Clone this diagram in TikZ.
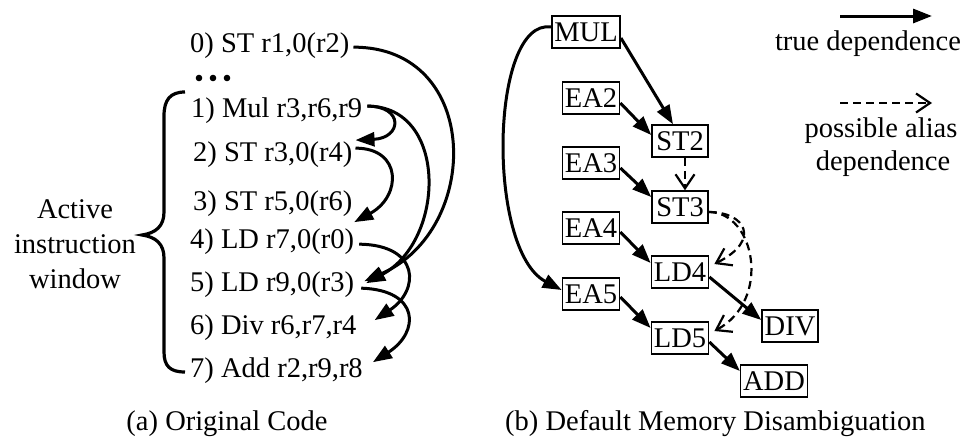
\documentclass[tikz,border=0pt]{standalone}
\usepackage{fontspec}
\setmainfont{Liberation Serif}
\usetikzlibrary{arrows.meta,calc}
\begin{document}
\begin{tikzpicture}[x=1pt,y=-1pt,
  every node/.style={font=\fontsize{28.5}{35}\selectfont},
  code/.style={anchor=base west,inner sep=0pt},
  box/.style={draw,line width=1.5pt,minimum width=56pt,minimum height=32pt,inner xsep=2.5pt,inner ysep=0pt},
  arr/.style={line width=3pt,-{Triangle[length=19pt,width=14pt]}},
  alias/.style={line width=2.2pt,dash pattern=on 8pt off 5pt,-{Straight Barb[length=14pt,width=19pt,line width=2.2pt]}},
  lbl/.style={anchor=base,inner sep=0pt}]
\useasboundingbox (0,0) rectangle (971,440);
% ---------- (a) ----------
\node[code] (l0) at (190,52) {0) ST r1,0(r2)};
\node[code] (l1) at (191,117) {1) Mul r3,r6,r9};
\node[code] (l2) at (193,161) {2) ST r3,0(r4)};
\node[code] (l3) at (193,210) {3) ST r5,0(r6)};
\node[code] (l4) at (190,248) {4) LD r7,0(r0)};
\node[code] (l5) at (190,291) {5) LD r9,0(r3)};
\node[code] (l6) at (190,334) {6) Div r6,r7,r4};
\node[code] (l7) at (190,377) {7) Add r2,r9,r8};
\foreach \x in {199,213,227} \fill (\x,78) circle (3.3pt);
\node[align=center,inner sep=0pt] (win) at (75,244) {Active\\instruction\\window};
\draw[line width=3.2pt] (185,92) .. controls (170,92) and (164,100) .. (164,116) -- (164,212)
  .. controls (164,226) and (156,233) .. (142,235) .. controls (156,237) and (164,244) .. (164,258)
  -- (164,352) .. controls (164,366) and (170,372) .. (185,372);
\draw[arr] ($(l0.east)+(4,2)$) .. controls (482,47) and (482,230) .. ($(l5.east)+(10,-3)$);
\draw[arr] ($(l1.east)+(5,-4)$) .. controls (448,106) and (446,240) .. ($(l5.east)+(12,-1)$);
\draw[arr] ($(l1.east)+(5,-4)$) .. controls (404,106) and (402,138) .. ($(l2.east)+(3,-14)$);
\draw[arr] ($(l2.east)+(3,-6)$) .. controls (402,148) and (402,196) .. ($(l4.east)+(0,-19)$);
\draw[arr] ($(l4.east)+(5,3)$) .. controls (420,245) and (420,290) .. ($(l6.east)+(18,-7)$);
\draw[arr] ($(l5.east)+(7,4)$) .. controls (420,290) and (420,332) .. ($(l7.east)+(10,-8)$);
\node[lbl] (capa) at (227,430) {(a) Original Code};
% ---------- (b) ----------
\node[box] (MUL) at (586,32) {MUL};
\node[box] (EA2) at (591,98) {EA2};
\node[box] (ST2) at (680,141) {ST2};
\node[box] (EA3) at (591,163) {EA3};
\node[box] (ST3) at (680,207) {ST3};
\node[box] (EA4) at (591,228) {EA4};
\node[box] (LD4) at (680,272) {LD4};
\node[box] (EA5) at (591,294) {EA5};
\node[box] (LD5) at (680,338) {LD5};
\node[box] (DIV) at (790,326) {DIV};
\node[box] (ADD) at (774,381) {ADD};
\draw[arr] ($(MUL.east)+(0,6)$) -- ($(ST2.north)+(-7,0)$);
\draw[arr] ($(EA2.east)+(0,5)$) -- ($(ST2.west)+(0,-6)$);
\draw[arr] ($(EA3.east)+(0,5)$) -- ($(ST3.west)+(0,-10)$);
\draw[arr] ($(EA4.east)+(0,4)$) -- ($(LD4.west)+(0,-9)$);
\draw[arr] ($(EA5.east)+(0,3)$) -- ($(LD5.west)+(0,-10)$);
\draw[arr] ($(LD4.east)+(0,5)$) -- ($(DIV.west)+(0,-6)$);
\draw[arr] ($(LD5.east)+(0,4)$) -- ($(ADD.west)+(0,-10)$);
\draw[arr] ($(MUL.west)+(0,-5)$) .. controls (490,18) and (486,250) .. ($(EA5.west)+(0,-4)$);
\draw[alias] ($(ST2.south)+(5,0)$) -- ($(ST3.north)+(5,0)$);
\draw[alias] ($(ST3.east)+(0,5)$) .. controls (745,212) and (762,240) .. ($(LD4.east)+(5,-8)$);
\draw[alias] ($(ST3.east)+(0,5)$) .. controls (755,212) and (772,300) .. ($(LD5.east)+(5,-7)$);
\node[lbl,anchor=base west] (capb) at (505,430) {(b) Default Memory Disambiguation};
% ---------- legend ----------
\coordinate (t1) at (840,16);
\coordinate (t2) at (932,16);
\draw[arr] (t1) -- (t2);
\node[lbl] (tl) at (868,50) {true dependence};
\coordinate (p1) at (840,103);
\coordinate (p2) at (932,103);
\draw[alias] (p1) -- (p2);
\node[lbl] (pl1) at (881,137) {possible alias};
\node[lbl] (pl2) at (883,170) {dependence};
\end{tikzpicture}
\end{document}
